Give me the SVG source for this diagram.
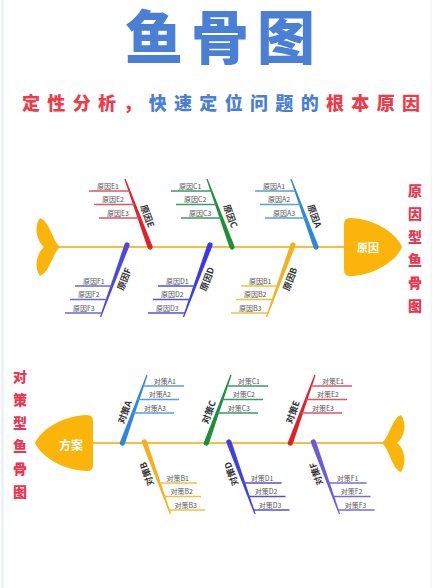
<svg xmlns="http://www.w3.org/2000/svg" xmlns:xlink="http://www.w3.org/1999/xlink" width="439" height="588" viewBox="0 0 439 588">
<style>
text{font-family:"Noto Sans CJK SC","Noto Sans",sans-serif}
.title{font-size:58px;font-weight:900;fill:#4a7fd6;letter-spacing:8px}
.sub{font-size:18px;font-weight:900}
.red{fill:#ee3b4a}
.blue{fill:#4a7fd6}
.vt{font-size:14px;font-weight:900;fill:#ee3550;text-anchor:middle;dominant-baseline:central}
.spine{stroke:#f5c040;stroke-width:2.2;fill:none}
.fish{fill:#fbb40a}
.head-t{font-size:11px;font-weight:700;fill:#fff;text-anchor:middle;dominant-baseline:central}
.bl{font-size:9px;font-weight:700;fill:#333;text-anchor:middle;dominant-baseline:central}
.sl{font-size:7px;fill:#555}
.sr{font-size:7px;fill:#555;text-anchor:end}
.ln{stroke-width:1.3;fill:none}
</style>
<defs>
<path id="bu" d="M0,-0.6 L72.4,-2.6 A2.6,2.6 0 0 1 72.4,2.6 L0,0.6 Z"/>
<path id="bl" d="M0,-0.6 L76.7,-2.6 A2.6,2.6 0 0 1 76.7,2.6 L0,0.6 Z"/>
</defs>
<rect width="439" height="588" fill="#fff"/>
<line x1="2.5" y1="0" x2="2.5" y2="588" stroke="#e6eefa" stroke-width="2"/>
<line x1="431" y1="0" x2="431" y2="588" stroke="#eeeeee" stroke-width="1"/>

<g id="title">
<text class="title" x="125" y="59">鱼骨图</text>
</g>
<g id="subtitle">
<text class="sub" x="22" y="110" textLength="398" lengthAdjust="spacing"><tspan class="red">定性分析，</tspan><tspan class="blue">快速定位问题的</tspan><tspan class="red">根本原因</tspan></text>
</g>

<g id="label-right">
<text class="vt"><tspan x="415" y="190">原</tspan><tspan x="415" y="213">因</tspan><tspan x="415" y="236">型</tspan><tspan x="415" y="259">鱼</tspan><tspan x="415" y="282">骨</tspan><tspan x="415" y="305">图</tspan></text>
</g>
<g id="label-left">
<text class="vt"><tspan x="20" y="375.5">对</tspan><tspan x="20" y="398.5">策</tspan><tspan x="20" y="421.5">型</tspan><tspan x="20" y="444.5">鱼</tspan><tspan x="20" y="467.5">骨</tspan><tspan x="20" y="490.5">图</tspan></text>
</g>

<g id="connectors">
<line class="spine" x1="58" y1="247" x2="346" y2="247"/>
<line class="spine" x1="91" y1="443" x2="384" y2="443"/>
</g>

<g id="tail-cause">
<path class="fish" d="M60,247 C52,240 50,222 40,218 C34,226 36,240 44,247 C36,254 34,268 40,276 C50,272 52,254 60,247 Z"/>
</g>
<g id="head-cause">
<path class="fish" d="M350,218 C372,218 396,232 402,247 C396,262 372,276 350,276 Q344,276 344,270 L344,224 Q344,218 350,218 Z"/>
<text class="head-t" x="368" y="247">原因</text>
</g>

<g id="cause-E">
<use xlink:href="#bu" href="#bu" fill="#e3202a" transform="translate(125,179) rotate(69.8)"/>
<g stroke="#e05560" class="ln">
<line x1="89" y1="191" x2="129.4" y2="191"/><line x1="94" y1="204.5" x2="134.4" y2="204.5"/><line x1="99" y1="218" x2="139.3" y2="218"/>
</g>
<text class="sl" x="97" y="188.5">原因E1</text><text class="sl" x="102" y="202">原因E2</text><text class="sl" x="107" y="215.5">原因E3</text>
<text class="bl" transform="translate(147.6,216) rotate(69.8)">原因E</text>
</g>
<g id="cause-C">
<use xlink:href="#bu" href="#bu" fill="#1f8f3a" transform="translate(207,179) rotate(69.8)"/>
<g stroke="#3a9a6a" class="ln">
<line x1="171" y1="191" x2="211.4" y2="191"/><line x1="176" y1="204.5" x2="216.4" y2="204.5"/><line x1="181" y1="218" x2="221.3" y2="218"/>
</g>
<text class="sl" x="179" y="188.5">原因C1</text><text class="sl" x="184" y="202">原因C2</text><text class="sl" x="189" y="215.5">原因C3</text>
<text class="bl" transform="translate(230.6,216) rotate(69.8)">原因C</text>
</g>
<g id="cause-A">
<use xlink:href="#bu" href="#bu" fill="#2f86e0" transform="translate(291,179) rotate(69.8)"/>
<g stroke="#5a9ee0" class="ln">
<line x1="255" y1="191" x2="295.4" y2="191"/><line x1="260" y1="204.5" x2="300.4" y2="204.5"/><line x1="265" y1="218" x2="305.3" y2="218"/>
</g>
<text class="sl" x="263" y="188.5">原因A1</text><text class="sl" x="268" y="202">原因A2</text><text class="sl" x="273" y="215.5">原因A3</text>
<text class="bl" transform="translate(314.6,216) rotate(69.8)">原因A</text>
</g>
<g id="cause-F">
<use xlink:href="#bl" href="#bl" fill="#4a4ae0" transform="translate(100.5,317) rotate(-69.8)"/>
<g stroke="#6a6ad8" class="ln">
<line x1="75" y1="286" x2="111.9" y2="286"/><line x1="70" y1="299.5" x2="106.9" y2="299.5"/><line x1="65" y1="313" x2="102" y2="313"/>
</g>
<text class="sl" x="83" y="283.5">原因F1</text><text class="sl" x="78" y="297">原因F2</text><text class="sl" x="73" y="310.5">原因F3</text>
<text class="bl" transform="translate(124,279) rotate(-69.8)">原因F</text>
</g>
<g id="cause-D">
<use xlink:href="#bl" href="#bl" fill="#3b3be6" transform="translate(183.5,317) rotate(-69.8)"/>
<g stroke="#5050d8" class="ln">
<line x1="158" y1="286" x2="194.9" y2="286"/><line x1="153" y1="299.5" x2="189.9" y2="299.5"/><line x1="148" y1="313" x2="185" y2="313"/>
</g>
<text class="sl" x="166" y="283.5">原因D1</text><text class="sl" x="161" y="297">原因D2</text><text class="sl" x="156" y="310.5">原因D3</text>
<text class="bl" transform="translate(207,279) rotate(-69.8)">原因D</text>
</g>
<g id="cause-B">
<use xlink:href="#bl" href="#bl" fill="#f4b01e" transform="translate(266.5,317) rotate(-69.8)"/>
<g stroke="#f0c040" class="ln">
<line x1="241" y1="286" x2="277.9" y2="286"/><line x1="236" y1="299.5" x2="272.9" y2="299.5"/><line x1="231" y1="313" x2="268" y2="313"/>
</g>
<text class="sl" x="249" y="283.5">原因B1</text><text class="sl" x="244" y="297">原因B2</text><text class="sl" x="239" y="310.5">原因B3</text>
<text class="bl" transform="translate(290,279) rotate(-69.8)">原因B</text>
</g>

<g id="head-solution">
<path class="fish" d="M87,415 C65,415 41,429 35,443 C41,457 65,471 87,471 Q93,471 93,465 L93,421 Q93,415 87,415 Z"/>
<text class="head-t" x="71" y="444" style="font-size:12px">方案</text>
</g>
<g id="tail-solution">
<path class="fish" d="M382,443 C390,436 392,418 401,415 C407,423 405,437 397,443 C405,449 407,463 401,472 C392,469 390,450 382,443 Z"/>
</g>

<g id="plan-A">
<use xlink:href="#bu" href="#bu" fill="#2f86e0" transform="translate(147,375) rotate(109.9)"/>
<g stroke="#5a9ee0" class="ln">
<line x1="143" y1="386" x2="184" y2="386"/><line x1="138.1" y1="399.5" x2="179" y2="399.5"/><line x1="133.2" y1="413" x2="174" y2="413"/>
</g>
<text class="sr" x="176" y="383.5">对策A1</text><text class="sr" x="171" y="397">对策A2</text><text class="sr" x="166" y="410.5">对策A3</text>
<text class="bl" transform="translate(124.6,412) rotate(-70)">对策A</text>
</g>
<g id="plan-C">
<use xlink:href="#bu" href="#bu" fill="#1f8f3a" transform="translate(231,375) rotate(109.9)"/>
<g stroke="#3a9a6a" class="ln">
<line x1="227" y1="386" x2="268" y2="386"/><line x1="222.1" y1="399.5" x2="263" y2="399.5"/><line x1="217.2" y1="413" x2="258" y2="413"/>
</g>
<text class="sr" x="260" y="383.5">对策C1</text><text class="sr" x="255" y="397">对策C2</text><text class="sr" x="250" y="410.5">对策C3</text>
<text class="bl" transform="translate(208.6,412) rotate(-70)">对策C</text>
</g>
<g id="plan-E">
<use xlink:href="#bu" href="#bu" fill="#e3202a" transform="translate(315,375) rotate(109.9)"/>
<g stroke="#e05560" class="ln">
<line x1="311" y1="386" x2="352" y2="386"/><line x1="306.1" y1="399.5" x2="347" y2="399.5"/><line x1="301.2" y1="413" x2="342" y2="413"/>
</g>
<text class="sr" x="344" y="383.5">对策E1</text><text class="sr" x="339" y="397">对策E2</text><text class="sr" x="334" y="410.5">对策E3</text>
<text class="bl" transform="translate(292.6,412) rotate(-70)">对策E</text>
</g>
<g id="plan-B">
<use xlink:href="#bl" href="#bl" fill="#f4b01e" transform="translate(170.5,514) rotate(-109.9)"/>
<g stroke="#f0c040" class="ln">
<line x1="158.8" y1="483" x2="197" y2="483"/><line x1="163.7" y1="496.5" x2="201" y2="496.5"/><line x1="168.5" y1="510" x2="205" y2="510"/>
</g>
<text class="sr" x="189" y="480.5">对策B1</text><text class="sr" x="193" y="494">对策B2</text><text class="sr" x="197" y="507.5">对策B3</text>
<text class="bl" transform="translate(146.6,474) rotate(-110)">对策B</text>
</g>
<g id="plan-D">
<use xlink:href="#bl" href="#bl" fill="#4040e0" transform="translate(255,514) rotate(-109.9)"/>
<g stroke="#5050d8" class="ln">
<line x1="243.3" y1="483" x2="281.5" y2="483"/><line x1="248.2" y1="496.5" x2="285.5" y2="496.5"/><line x1="253" y1="510" x2="289.5" y2="510"/>
</g>
<text class="sr" x="273.5" y="480.5">对策D1</text><text class="sr" x="277.5" y="494">对策D2</text><text class="sr" x="281.5" y="507.5">对策D3</text>
<text class="bl" transform="translate(231.1,474) rotate(-110)">对策D</text>
</g>
<g id="plan-F">
<use xlink:href="#bl" href="#bl" fill="#6a5ae0" transform="translate(339.5,514) rotate(-109.9)"/>
<g stroke="#7a6ad8" class="ln">
<line x1="328.3" y1="483" x2="366.5" y2="483"/><line x1="333.2" y1="496.5" x2="370.5" y2="496.5"/><line x1="338" y1="510" x2="374.5" y2="510"/>
</g>
<text class="sr" x="358.5" y="480.5">对策F1</text><text class="sr" x="362.5" y="494">对策F2</text><text class="sr" x="366.5" y="507.5">对策F3</text>
<text class="bl" transform="translate(316.1,474) rotate(-110)">对策F</text>
</g>
</svg>
